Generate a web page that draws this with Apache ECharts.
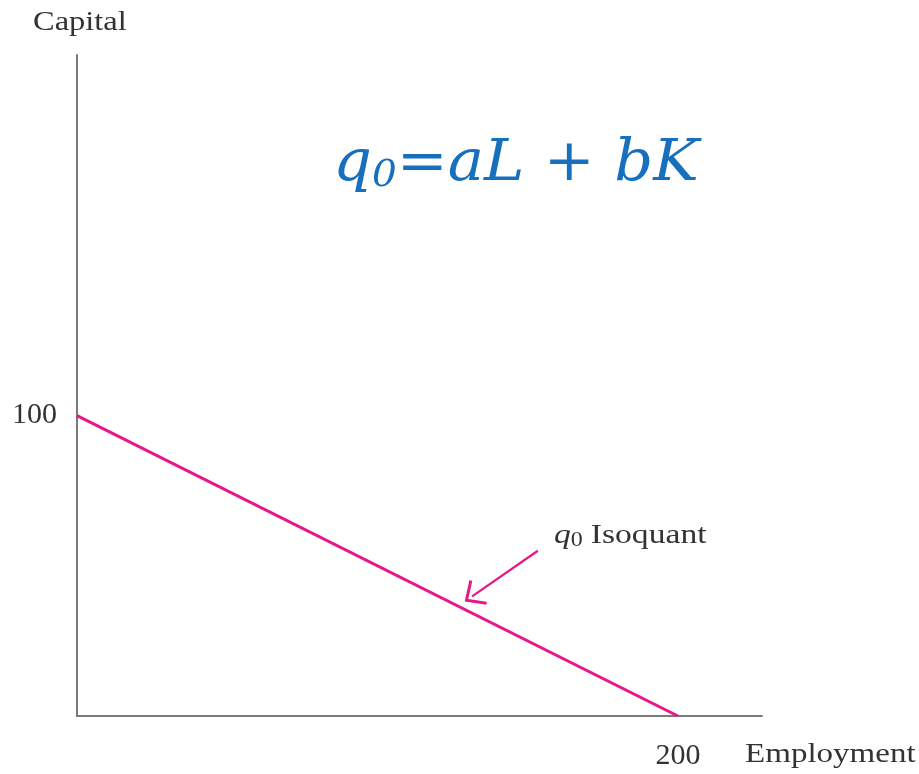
<!DOCTYPE html>
<html lang="en">
<head>
    <meta charset="UTF-8">
    <title>Isoquant</title>
    <script src="https://cdn.jsdelivr.net/npm/echarts@6/dist/echarts.min.js"></script>
    <style>
        html, body {
            margin: 0;
            height: 100%;
            background: #fff;
        }
        #chart {
            width: 919px;
            height: 774px;
        }
    </style>
</head>
<body>
<div id="chart"></div>
<script>
    // isoquant endpoints (employment, capital)
    var isoquant = [[0, 100], [200, 0]];
    // pointer arrow, tail -> head
    var arrowPts = [[153.4, 55], [131.5, 39.8]];
    var xTicks = [200];
    var yTicks = [100];
    var xMax = 228;
    var yMax = 220;

    var serif = '"Liberation Serif", "DejaVu Serif", serif';
    var axisColor = '#7a7a7a';
    var pink = '#e9168a';
    var blue = '#1670be';
    var textColor = '#333';

    var myChart = echarts.init(document.getElementById('chart'));
    var option = {
        animation: false,
        grid: {left: 77, top: 55, right: 157, bottom: 58},
        xAxis: {
            type: 'value',
            min: 0,
            max: xMax,
            splitLine: {show: false},
            axisLine: {lineStyle: {color: axisColor, width: 2}},
            axisTick: {show: false},
            axisLabel: {
                customValues: xTicks,
                margin: 25,
                fontFamily: serif,
                fontSize: 30,
                color: textColor
            }
        },
        yAxis: {
            type: 'value',
            min: 0,
            max: yMax,
            splitLine: {show: false},
            axisLine: {lineStyle: {color: axisColor, width: 2}},
            axisTick: {show: false},
            axisLabel: {
                customValues: yTicks,
                margin: 20,
                fontFamily: serif,
                fontSize: 30,
                color: textColor
            }
        },
        graphic: [
            {
                // axis titles, stretched a little to the wide face of the original
                type: 'text',
                x: 33,
                y: 9,
                scaleX: 1.16,
                style: {text: 'Capital', font: '28px ' + serif, fill: textColor, verticalAlign: 'top'}
            },
            {
                type: 'text',
                x: 745,
                y: 741,
                scaleX: 1.18,
                style: {text: 'Employment', font: '28px ' + serif, fill: textColor, verticalAlign: 'top'}
            },
            {
                type: 'text',
                x: 333,
                y: 134,
                scaleX: 1.05,
                style: {
                    text: '{a|q}{s|0}{a|=aL + bK}',
                    fill: blue,
                    verticalAlign: 'top',
                    rich: {
                        a: {fontFamily: 'DejaVu Serif', fontStyle: 'italic', fontSize: 58, fill: blue},
                        s: {fontFamily: 'DejaVu Serif', fontStyle: 'italic', fontSize: 37, fill: blue, padding: [24, 0, 0, 0]}
                    }
                }
            },
            {
                type: 'text',
                x: 554,
                y: 521,
                scaleX: 1.2,
                style: {
                    text: '{q|q}{s|0}  {t|Isoquant}',
                    fill: textColor,
                    verticalAlign: 'top',
                    rich: {
                        q: {fontFamily: serif, fontStyle: 'italic', fontSize: 28, fill: textColor},
                        s: {fontFamily: serif, fontSize: 20, fill: textColor, padding: [10, 0, 0, 0]},
                        t: {fontFamily: serif, fontSize: 28, fill: textColor}
                    }
                }
            }
        ],
        series: [
            {
                type: 'line',
                data: isoquant,
                symbol: 'none',
                silent: true,
                lineStyle: {color: pink, width: 3},
                markLine: {
                    silent: true,
                    symbol: ['none', 'path://M10,0 L20,10.8 L18.4,12 L10,2.9 L1.6,12 L0,10.8 Z'],
                    symbolSize: [30, 18],
                    label: {show: false},
                    lineStyle: {color: pink, width: 2.2, type: 'solid'},
                    data: [[{coord: arrowPts[0]}, {coord: arrowPts[1]}]]
                }
            }
        ]
    };
    myChart.setOption(option);
</script>
</body>
</html>
